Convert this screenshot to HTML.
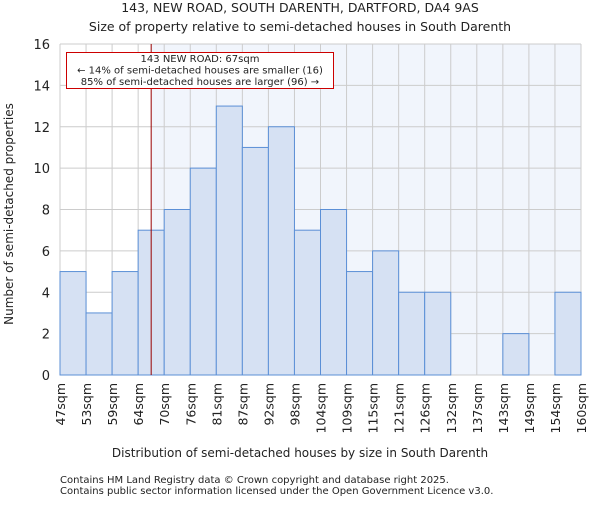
<!DOCTYPE html>
<html><head><meta charset="utf-8"><style>
body{margin:0;background:#fff;}
svg text{font-family:"DejaVu Sans","Liberation Sans",sans-serif;fill:#222;}
</style></head><body>
<svg id="chart" width="600" height="500" xmlns="http://www.w3.org/2000/svg">
<text x="300" y="12" font-size="12.5" text-anchor="middle">143, NEW ROAD, SOUTH DARENTH, DARTFORD, DA4 9AS</text>
<text x="300" y="31" font-size="12.5" text-anchor="middle">Size of property relative to semi-detached houses in South Darenth</text>
<g id="plot"></g>
<text x="300" y="457" font-size="12" text-anchor="middle">Distribution of semi-detached houses by size in South Darenth</text>
<text transform="translate(13,214) rotate(-90)" font-size="12" text-anchor="middle">Number of semi-detached properties</text>
<text x="60" y="483" font-size="10">Contains HM Land Registry data © Crown copyright and database right 2025.</text>
<text x="60" y="494" font-size="10">Contains public sector information licensed under the Open Government Licence v3.0.</text>
</svg>
<script>
const binLabels=["47sqm","53sqm","59sqm","64sqm","70sqm","76sqm","81sqm","87sqm","92sqm","98sqm","104sqm","109sqm","115sqm","121sqm","126sqm","132sqm","137sqm","143sqm","149sqm","154sqm","160sqm"];
const counts=[5,3,5,7,8,10,13,11,12,7,8,5,6,4,4,0,0,2,0,4];
const yTicks=[0,2,4,6,8,10,12,14,16];
const markerBinPos=[3.5];
const NS="http://www.w3.org/2000/svg";
const L=60,R=581,T=44,B=375,YMAX=16;
const n=counts.length;
const xs=i=>L+(R-L)*i/n;
const ys=v=>B-(B-T)*v/YMAX;
const g=document.getElementById('plot');
function mk(tag,attrs){const e=document.createElementNS(NS,tag);for(const k in attrs)e.setAttribute(k,attrs[k]);g.appendChild(e);return e;}
const mx=xs(markerBinPos[0]);
let e=mk('rect',{x:mx,y:T,width:R-mx,height:B-T,fill:'#f1f5fc'});


for(let i=0;i<=n;i++){e=mk('line',{x1:xs(i),x2:xs(i),y1:T,y2:B,stroke:'#cccccc','stroke-width':1});

}
yTicks.forEach(t=>{e=mk('line',{x1:L,x2:R,y1:ys(t),y2:ys(t),stroke:'#cccccc','stroke-width':1});


const tx=mk('text',{x:L-10,y:ys(t)+5,'font-size':13,'text-anchor':'end'});tx.textContent=t;

});
counts.forEach((c,i)=>{if(c<=0)return;e=mk('rect',{x:xs(i),y:ys(c),width:xs(i+1)-xs(i),height:B-ys(c),fill:'#d6e1f3',stroke:'#5b8fd6','stroke-width':1});

});
binLabels.forEach((l,i)=>{const tx=mk('text',{transform:`translate(${xs(i)+5},383) rotate(-90)`,'font-size':12.5,'text-anchor':'end'});tx.textContent=l;

});
e=mk('line',{x1:mx,x2:mx,y1:T,y2:B,stroke:'#990000','stroke-width':1});


e=mk('rect',{x:66.5,y:52.5,width:267,height:36,fill:'#fff',stroke:'#cc0000','stroke-width':1});


[["143 NEW ROAD: 67sqm",62],["← 14% of semi-detached houses are smaller (16)",73.5],["85% of semi-detached houses are larger (96) →",85]].forEach(([s,y],k)=>{const tx=mk('text',{x:200,y:y,'font-size':10,'text-anchor':'middle'});tx.textContent=s;

});
</script>
</body></html>
